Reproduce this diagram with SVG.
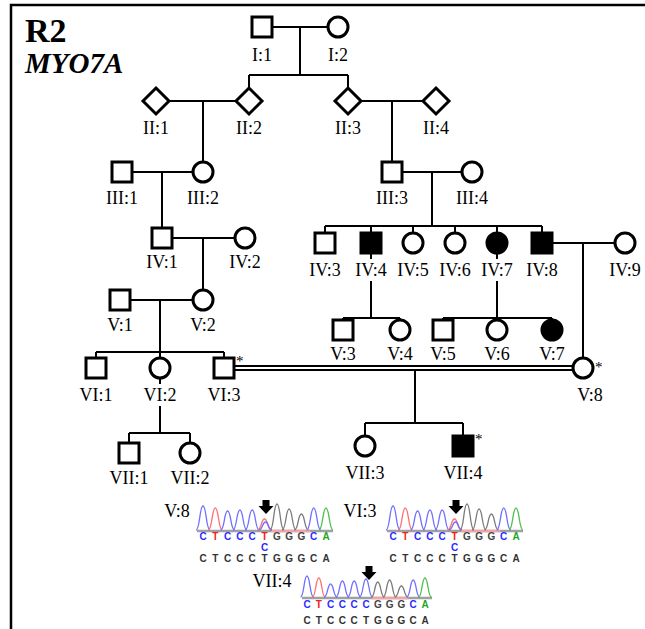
<svg xmlns="http://www.w3.org/2000/svg" xmlns:xlink="http://www.w3.org/1999/xlink" width="645" height="629" viewBox="0 0 645 629">
<style>
.sym{fill:#fff;stroke:#000;stroke-width:3}
.aff{fill:#000;stroke:#000;stroke-width:3}
.ln{stroke:#000;stroke-width:2;fill:none}
.lb{font-family:"Liberation Serif","Times New Roman",serif;font-size:18px;text-anchor:middle;fill:#000}
.ast{font-family:"Liberation Serif","Times New Roman",serif;font-size:15px;fill:#000}
.seq{font-family:"Liberation Sans",Arial,sans-serif;font-size:10px;font-weight:bold;text-anchor:middle}
.pk{fill:none;stroke-width:1.3}
.pb{stroke:#6f6fff}.pr{stroke:#ff6f6f}.pg{stroke:#7a7a7a}.pn{stroke:#4fbf4f}
.cb{fill:#2b2bff}.cr{fill:#ee2222}.cg{fill:#444}.cn{fill:#1fa51f}.ck{fill:#333}
.base{stroke:#a0a0a0;stroke-width:2.5}
.pink{stroke:#f3a5a5;stroke-width:2.5}
</style>
<defs>
<polygon id="arrow" points="-3.5,0 3.5,0 3.5,6 7.5,6 0,14 -7.5,6 -3.5,6" fill="#000"/>
<g id="peaks1">
<line class="base" x1="197" y1="531" x2="333" y2="531"/>
<line class="pink" x1="271" y1="531" x2="310" y2="531"/>
<path class="pk pb" d="M196 530 C200 530 199.5 506 203 506 C206.5 506 206 530 210 530"/>
<path class="pk pr" d="M208.3 530 C212.3 530 211.8 508 215.3 508 C218.8 508 218.3 530 222.3 530"/>
<path class="pk pb" d="M220.6 530 C224.6 530 224.1 511 227.6 511 C231.1 511 230.6 530 234.6 530"/>
<path class="pk pb" d="M232.9 530 C236.9 530 236.4 510 239.9 510 C243.4 510 242.9 530 246.9 530"/>
<path class="pk pb" d="M245.2 530 C249.2 530 248.7 510 252.2 510 C255.7 510 255.2 530 259.2 530"/>
<path class="pk pr" d="M257.5 530 C261.5 530 261 519 264.5 519 C268 519 267.5 530 271.5 530"/>
<path class="pk pb" d="M259 530 C262.5 530 262.5 522 265.5 522 C268.5 522 268.5 530 272 530"/>
<path class="pk pg" d="M270 530 C274 530 273.5 504 277 504 C280.5 504 280 530 284 530"/>
<path class="pk pg" d="M282.1 530 C286.1 530 285.6 509 289.1 509 C292.6 509 292.1 530 296.1 530"/>
<path class="pk pg" d="M294.4 530 C298.4 530 297.9 514 301.4 514 C304.9 514 304.4 530 308.4 530"/>
<path class="pk pb" d="M306.7 530 C310.7 530 310.2 508 313.7 508 C317.2 508 316.7 530 320.7 530"/>
<path class="pk pn" d="M319 530 C323 530 322.5 508 326 508 C329.5 508 329 530 333 530"/>
</g>
</defs>
<rect x="11" y="5" width="650" height="640" fill="none" stroke="#000" stroke-width="2.5"/>
<text x="25" y="42" font-family="'Liberation Serif','Times New Roman',serif" font-size="34" font-weight="bold">R2</text>
<text x="25" y="73" font-family="'Liberation Serif','Times New Roman',serif" font-size="29" font-style="italic" font-weight="bold">MYO7A</text>

<g id="connectors" class="ln">
<path d="M272 27 H328 M300 27 V75 M249 75 H348 M249 75 V88 M348 75 V88"/>
<path d="M169 101 H236 M203 101 V161"/>
<path d="M361 101 H423 M392 101 V162"/>
<path d="M132 172 H192 M162 172 V228"/>
<path d="M402 172 H461 M432 172 V226 M325 226 H542 M325 226 V233 M371 226 V233 M413 226 V232 M455 226 V232 M497 226 V232 M542 226 V233"/>
<path d="M172 238 H234 M203 238 V289"/>
<path d="M552 243 H614 M583 243 V357"/>
<path d="M371 253 V259 M371 281 V318 M343 318 H400 M343 318 V320 M400 318 V319"/>
<path d="M497 253 V259 M497 281 V318 M443 318 H552 M443 318 V320 M497 318 V319 M552 318 V319"/>
<path d="M130 300 H192 M160 300 V352 M96 352 H224 M96 352 V358 M160 352 V357 M224 352 V358"/>
<path d="M234 366 H573 M234 370 H573"/>
<path d="M415 370 V423 M365 423 H463 M365 423 V435 M463 423 V436"/>
<path d="M160 379 V384 M160 406 V433 M129 433 H190 M129 433 V443 M190 433 V442"/>
</g>

<g id="I1"><rect class="sym" x="252" y="17" width="20" height="20"/><text class="lb" x="262" y="61">I:1</text></g>
<g id="I2"><circle class="sym" cx="338" cy="27" r="10"/><text class="lb" x="338" y="61">I:2</text></g>
<g id="II1"><polygon class="sym" points="156,88 169,101 156,114 143,101"/><text class="lb" x="156" y="134">II:1</text></g>
<g id="II2"><polygon class="sym" points="249,88 262,101 249,114 236,101"/><text class="lb" x="249" y="134">II:2</text></g>
<g id="II3"><polygon class="sym" points="348,88 361,101 348,114 335,101"/><text class="lb" x="348" y="134">II:3</text></g>
<g id="II4"><polygon class="sym" points="436,88 449,101 436,114 423,101"/><text class="lb" x="436" y="134">II:4</text></g>
<g id="III1"><rect class="sym" x="112" y="162" width="20" height="20"/><text class="lb" x="122" y="204">III:1</text></g>
<g id="III2"><circle class="sym" cx="203" cy="172" r="10"/><text class="lb" x="203" y="204">III:2</text></g>
<g id="III3"><rect class="sym" x="382" y="162" width="20" height="20"/><text class="lb" x="392" y="204">III:3</text></g>
<g id="III4"><circle class="sym" cx="472" cy="172" r="10"/><text class="lb" x="472" y="204">III:4</text></g>
<g id="IV1"><rect class="sym" x="152" y="228" width="20" height="20"/><text class="lb" x="162" y="268">IV:1</text></g>
<g id="IV2"><circle class="sym" cx="245" cy="238" r="10"/><text class="lb" x="245" y="268">IV:2</text></g>
<g id="IV3"><rect class="sym" x="315" y="233" width="20" height="20"/><text class="lb" x="325" y="276">IV:3</text></g>
<g id="IV4"><rect class="aff" x="361" y="233" width="20" height="20"/><text class="lb" x="371" y="276">IV:4</text></g>
<g id="IV5"><circle class="sym" cx="413" cy="243" r="10"/><text class="lb" x="413" y="276">IV:5</text></g>
<g id="IV6"><circle class="sym" cx="455" cy="243" r="10"/><text class="lb" x="455" y="276">IV:6</text></g>
<g id="IV7"><circle class="aff" cx="497" cy="243" r="10"/><text class="lb" x="497" y="276">IV:7</text></g>
<g id="IV8"><rect class="aff" x="532" y="233" width="20" height="20"/><text class="lb" x="542" y="276">IV:8</text></g>
<g id="IV9"><circle class="sym" cx="625" cy="243" r="10"/><text class="lb" x="625" y="276">IV:9</text></g>
<g id="V1"><rect class="sym" x="110" y="290" width="20" height="20"/><text class="lb" x="120" y="331">V:1</text></g>
<g id="V2"><circle class="sym" cx="203" cy="300" r="10"/><text class="lb" x="203" y="331">V:2</text></g>
<g id="V3"><rect class="sym" x="333" y="320" width="20" height="20"/><text class="lb" x="343" y="360">V:3</text></g>
<g id="V4"><circle class="sym" cx="400" cy="330" r="10"/><text class="lb" x="400" y="360">V:4</text></g>
<g id="V5"><rect class="sym" x="433" y="320" width="20" height="20"/><text class="lb" x="443" y="360">V:5</text></g>
<g id="V6"><circle class="sym" cx="497" cy="330" r="10"/><text class="lb" x="497" y="360">V:6</text></g>
<g id="V7"><circle class="aff" cx="552" cy="330" r="10"/><text class="lb" x="552" y="360">V:7</text></g>
<g id="V8"><circle class="sym" cx="583" cy="368" r="10"/><text class="ast" x="595" y="372">*</text><text class="lb" x="590" y="401">V:8</text></g>
<g id="VI1"><rect class="sym" x="86" y="358" width="20" height="20"/><text class="lb" x="96" y="401">VI:1</text></g>
<g id="VI2"><circle class="sym" cx="160" cy="368" r="10"/><text class="lb" x="160" y="401">VI:2</text></g>
<g id="VI3"><rect class="sym" x="214" y="358" width="20" height="20"/><text class="ast" x="236" y="366">*</text><text class="lb" x="224" y="401">VI:3</text></g>
<g id="VII1"><rect class="sym" x="119" y="443" width="20" height="20"/><text class="lb" x="129" y="484">VII:1</text></g>
<g id="VII2"><circle class="sym" cx="190" cy="453" r="10"/><text class="lb" x="190" y="484">VII:2</text></g>
<g id="VII3"><circle class="sym" cx="365" cy="446" r="10"/><text class="lb" x="365" y="479">VII:3</text></g>
<g id="VII4"><rect class="aff" x="453" y="436" width="20" height="20"/><text class="ast" x="475" y="444">*</text><text class="lb" x="463" y="479">VII:4</text></g>

<g id="chromV8">
<text class="lb" x="177" y="517">V:8</text>
<use xlink:href="#peaks1"/>
<use xlink:href="#arrow" x="266" y="500"/>
<text class="seq" y="540"><tspan class="cb" x="203">C</tspan><tspan class="cr" x="215.3">T</tspan><tspan class="cb" x="227.6 239.9 252.2">CCC</tspan><tspan class="cr" x="264.5">T</tspan><tspan class="cg" x="276.8 289.1 301.4">GGG</tspan><tspan class="cb" x="313.7">C</tspan><tspan class="cn" x="326">A</tspan></text>
<text class="seq cb" x="264.5" y="551" font-size="8.5">C</text>
<text class="seq ck" x="203 215.3 227.6 239.9 252.2 264.5 276.8 289.1 301.4 313.7 326" y="562">CTCCCTGGGCA</text>
</g>
<g id="chromVI3">
<text class="lb" x="360" y="517">VI:3</text>
<use xlink:href="#peaks1" transform="translate(190,0)"/>
<use xlink:href="#arrow" x="456" y="500"/>
<text class="seq" y="540"><tspan class="cb" x="393">C</tspan><tspan class="cr" x="405.3">T</tspan><tspan class="cb" x="417.6 429.9 442.2">CCC</tspan><tspan class="cr" x="454.5">T</tspan><tspan class="cg" x="466.8 479.1 491.4">GGG</tspan><tspan class="cb" x="503.7">C</tspan><tspan class="cn" x="516">A</tspan></text>
<text class="seq cb" x="454.5" y="551" font-size="8.5">C</text>
<text class="seq ck" x="393 405.3 417.6 429.9 442.2 454.5 466.8 479.1 491.4 503.7 516" y="562">CTCCCTGGGCA</text>
</g>
<g id="chromVII4">
<text class="lb" x="272" y="587">VII:4</text>
<line class="base" x1="302" y1="598" x2="432" y2="598"/>
<line class="pink" x1="372" y1="598" x2="408" y2="598"/>
<path class="pk pb" d="M300.5 597 C304.2 597 303.8 576 307 576 C310.2 576 309.8 597 313.5 597"/>
<path class="pk pr" d="M312.3 597 C316 597 315.6 578 318.8 578 C322 578 321.6 597 325.3 597"/>
<path class="pk pb" d="M324.1 597 C327.8 597 327.4 584 330.6 584 C333.8 584 333.4 597 337.1 597"/>
<path class="pk pb" d="M335.9 597 C339.6 597 339.2 581 342.4 581 C345.6 581 345.2 597 348.9 597"/>
<path class="pk pb" d="M347.7 597 C351.4 597 351 581 354.2 581 C357.4 581 357 597 360.7 597"/>
<path class="pk pb" d="M359.5 597 C363.2 597 362.8 579 366 579 C369.2 579 368.8 597 372.5 597"/>
<path class="pk pg" d="M371.3 597 C375 597 374.6 582 377.8 582 C381 582 380.6 597 384.3 597"/>
<path class="pk pg" d="M383.1 597 C386.8 597 386.4 580 389.6 580 C392.8 580 392.4 597 396.1 597"/>
<path class="pk pg" d="M394.9 597 C398.6 597 398.2 586 401.4 586 C404.6 586 404.2 597 407.9 597"/>
<path class="pk pb" d="M406.7 597 C410.4 597 410 580 413.2 580 C416.4 580 416 597 419.7 597"/>
<path class="pk pn" d="M418.5 597 C422.2 597 421.8 578 425 578 C428.2 578 427.8 597 431.5 597"/>
<use xlink:href="#arrow" x="369" y="566"/>
<text class="seq" y="608"><tspan class="cb" x="307">C</tspan><tspan class="cr" x="318.8">T</tspan><tspan class="cb" x="330.6 342.4 354.2 366">CCCC</tspan><tspan class="cg" x="377.8 389.6 401.4">GGG</tspan><tspan class="cb" x="413.2">C</tspan><tspan class="cn" x="425">A</tspan></text>
<text class="seq ck" x="307 318.8 330.6 342.4 354.2 366 377.8 389.6 401.4 413.2 425" y="624">CTCCCTGGGCA</text>
</g>
</svg>
